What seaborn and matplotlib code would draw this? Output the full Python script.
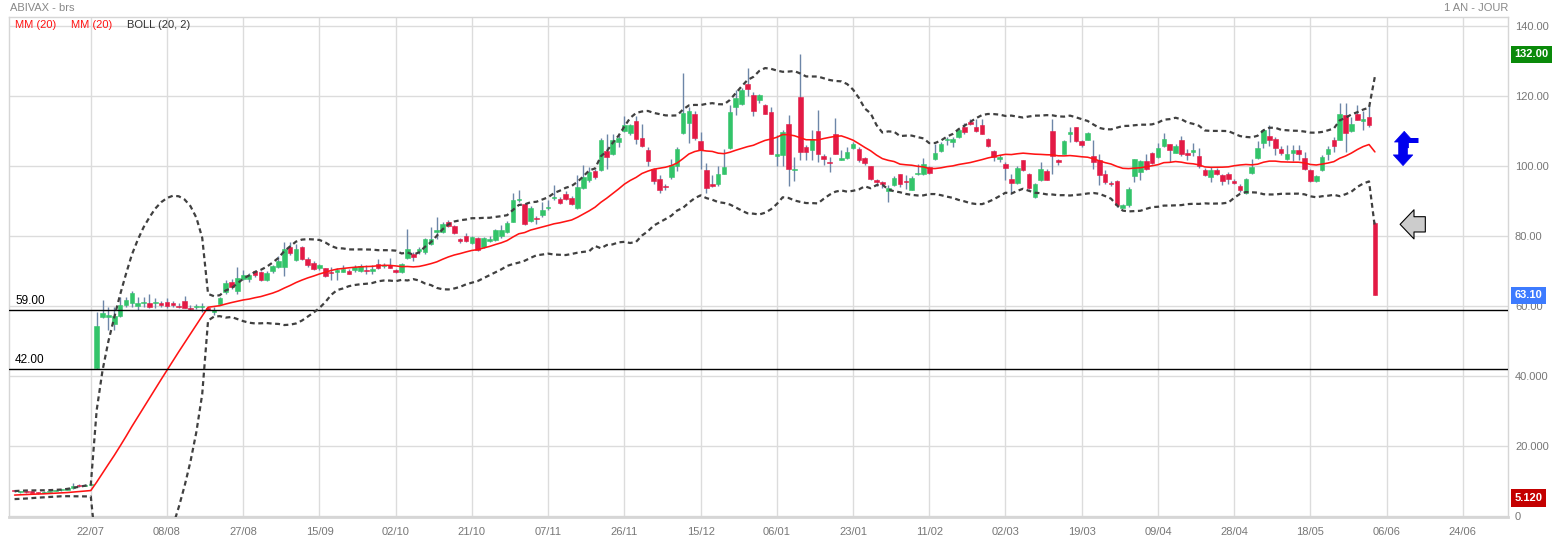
import numpy as np
import pandas as pd
import matplotlib
matplotlib.use("Agg")
import matplotlib.pyplot as plt
import matplotlib.transforms as mtransforms
import seaborn as sns

# ABIVAX - daily candles, 1 year
# closes before the first visible day, only used to warm up MM(20) / BOLL(20, 2)
warmup_close = [5.2, 5.3, 5.2, 5.4, 5.5, 5.4, 5.6, 5.7, 5.8, 5.7,
                5.9, 6.0, 6.1, 6.3, 6.4, 6.5, 6.7, 6.8, 6.9]

opens = [7.1, 6.8, 6.9, 6.8, 6.7, 6.6, 6.9, 7.1, 7.3, 7.4, 7.9, 8.9, 8.6, 8.9,
         42.4, 56.9, 57.0, 55.0, 57.2, 60.3, 60.8, 60.0, 60.9, 61.0,
         60.8, 60.9, 61.1, 60.8, 60.0, 61.6, 59.5, 59.7, 59.7, 59.6,
         58.4, 60.6, 64.1, 66.9, 64.3, 67.9, 67.9, 70.0, 69.7, 67.5,
         70.0, 71.2, 71.3, 77.0, 73.1, 76.8, 73.6, 72.4, 70.8, 70.8,
         69.8, 69.9, 69.9, 70.0, 70.3, 70.1, 70.4, 70.1, 72.2, 71.5,
         71.8, 70.2, 69.9, 73.7, 74.8, 75.7, 75.6, 77.9, 81.2, 81.2,
         84.0, 82.9, 79.1, 80.2, 78.1, 79.4, 76.8, 78.6, 78.9, 80.0,
         81.2, 84.2, 90.3, 89.3, 84.3, 85.3, 86.0, 88.1, 91.0, 90.6,
         92.2, 90.9, 88.2, 93.9, 96.0, 98.7, 98.9, 104.3, 103.6, 106.9,
         110.2, 109.5, 112.9, 108.0, 104.8, 99.2, 96.4, 94.5, 97.0, 100.0,
         109.5, 112.4, 115.0, 107.1, 99.0, 95.0, 94.8, 97.9, 105.3, 117.1,
         117.9, 123.4, 120.5, 118.9, 117.4, 115.4, 103.0, 103.2, 112.2, 99.0,
         119.8, 105.5, 104.8, 110.0, 103.0, 101.2, 109.1, 101.9, 102.4, 105.3,
         105.0, 102.4, 100.2, 95.8, 95.5, 93.0, 94.6, 97.7, 95.8, 93.3,
         97.8, 97.9, 99.9, 102.2, 104.4, 107.5, 106.9, 108.4, 111.1, 112.6,
         111.1, 111.7, 107.9, 104.3, 102.1, 100.6, 96.5, 95.3, 101.7, 97.9,
         91.3, 96.0, 98.7, 110.0, 101.7, 103.6, 109.1, 111.2, 107.2, 107.6,
         102.9, 101.7, 97.7, 95.2, 95.8, 88.2, 88.9, 97.2, 98.4, 101.4,
         103.9, 102.7, 105.8, 106.3, 103.9, 107.6, 103.9, 104.2, 103.0, 98.8,
         96.9, 98.8, 97.4, 97.9, 95.8, 94.5, 92.4, 98.1, 102.4, 106.6,
         108.8, 107.9, 105.0, 102.2, 103.8, 104.7, 102.5, 99.0, 95.8, 98.8,
         103.6, 107.4, 107.6, 114.6, 110.1, 115.0, 112.9, 114.1, 83.8]

highs = [7.3, 7.1, 7.0, 6.9, 6.8, 7.0, 7.2, 7.4, 7.6, 8.1, 9.3, 9.0, 9.1, 9.3,
         58.4, 61.7, 59.8, 59.8, 62.7, 62.7, 64.3, 62.7, 62.7, 63.4,
         62.3, 61.6, 62.2, 61.6, 60.8, 63.0, 60.3, 60.5, 60.9, 59.8,
         59.8, 62.7, 67.5, 67.7, 71.2, 70.3, 69.4, 70.3, 70.0, 70.0,
         71.8, 74.3, 78.4, 78.4, 77.9, 77.3, 74.0, 72.8, 72.2, 71.0,
         71.2, 71.0, 71.9, 70.7, 71.7, 72.2, 71.7, 71.7, 73.6, 72.4,
         73.9, 70.6, 72.4, 82.2, 75.5, 76.8, 79.6, 82.7, 85.5, 84.1,
         84.6, 83.2, 79.6, 81.0, 80.0, 79.8, 79.7, 80.0, 82.2, 83.1,
         84.4, 92.4, 93.1, 89.5, 88.6, 85.7, 89.8, 90.4, 94.6, 91.3,
         92.8, 91.4, 97.4, 100.3, 99.9, 99.1, 108.2, 109.3, 109.3, 109.0,
         114.3, 112.0, 114.3, 112.0, 105.4, 99.5, 97.4, 95.0, 102.2, 105.5,
         126.7, 117.0, 115.7, 109.8, 100.9, 97.4, 100.0, 105.0, 117.4, 121.7,
         122.4, 128.2, 121.2, 120.6, 117.7, 117.0, 109.0, 110.3, 114.6, 102.7,
         132.0, 106.0, 110.3, 116.2, 103.6, 102.7, 113.9, 104.8, 105.5, 107.0,
         105.5, 102.7, 100.2, 96.5, 95.7, 94.6, 97.1, 97.9, 97.4, 97.1,
         100.6, 102.3, 100.2, 106.5, 107.0, 108.4, 108.4, 110.8, 112.4, 113.5,
         113.6, 113.6, 108.1, 104.6, 103.2, 101.2, 97.9, 100.0, 101.9, 98.1,
         95.2, 101.2, 99.3, 113.6, 102.2, 107.6, 111.2, 111.2, 107.6, 109.8,
         107.6, 103.6, 98.8, 95.8, 96.2, 89.3, 94.1, 102.2, 101.7, 103.6,
         104.1, 106.7, 109.5, 106.5, 106.5, 108.8, 105.0, 106.6, 105.1, 99.5,
         99.7, 99.5, 97.9, 98.4, 96.5, 95.0, 96.7, 102.2, 107.2, 110.7,
         111.7, 108.5, 105.7, 106.0, 106.0, 106.0, 104.1, 99.3, 97.4, 103.1,
         105.7, 108.4, 118.0, 118.0, 114.1, 117.4, 115.9, 117.4, 84.1]

lows = [6.8, 6.7, 6.6, 6.5, 6.4, 6.5, 6.8, 7.0, 7.1, 7.3, 7.8, 8.4, 8.5, 8.8,
        42.0, 56.5, 53.2, 53.2, 57.0, 59.8, 59.8, 58.9, 59.8, 59.6,
        59.6, 59.8, 59.6, 59.8, 59.5, 59.5, 58.9, 59.2, 58.4, 58.9,
        57.6, 60.4, 63.6, 64.9, 63.6, 67.5, 67.0, 68.2, 67.2, 67.2,
        69.6, 70.8, 68.6, 74.6, 72.9, 73.3, 71.3, 70.3, 70.3, 68.4,
        67.6, 67.6, 69.7, 69.1, 69.8, 69.8, 69.2, 69.2, 70.6, 71.0,
        70.8, 69.6, 69.6, 73.4, 73.0, 74.9, 74.9, 77.4, 79.3, 80.9,
        82.6, 80.6, 78.1, 78.4, 77.9, 75.9, 76.6, 78.4, 78.7, 79.6,
        80.9, 84.0, 89.9, 83.1, 84.0, 83.4, 85.5, 87.5, 90.4, 89.1,
        90.4, 88.8, 87.9, 93.6, 95.5, 96.5, 98.7, 99.3, 103.1, 105.4,
        109.8, 109.0, 106.5, 105.6, 100.2, 95.0, 92.4, 93.3, 96.5, 98.7,
        109.3, 106.6, 107.4, 99.3, 92.4, 94.0, 94.3, 97.7, 105.0, 114.6,
        117.4, 120.0, 114.3, 118.1, 114.9, 103.4, 100.0, 100.0, 94.3, 95.7,
        101.7, 101.7, 101.7, 101.2, 100.3, 98.4, 103.4, 101.7, 102.2, 104.9,
        101.2, 100.3, 96.0, 94.3, 93.9, 89.9, 94.3, 94.0, 93.6, 93.1,
        97.4, 97.4, 97.9, 101.7, 104.1, 106.0, 105.5, 108.1, 109.3, 111.7,
        109.8, 109.1, 105.6, 101.5, 101.2, 96.0, 92.2, 95.0, 98.7, 93.6,
        91.0, 95.8, 96.0, 97.9, 100.3, 103.4, 107.0, 106.9, 105.5, 107.4,
        99.3, 94.6, 95.0, 94.3, 88.4, 88.0, 88.4, 95.5, 96.0, 98.8,
        100.7, 102.5, 105.5, 101.2, 103.8, 102.9, 101.7, 103.0, 99.6, 97.2,
        95.5, 97.4, 94.6, 95.0, 94.9, 92.6, 92.2, 97.9, 102.2, 105.3,
        105.9, 103.1, 103.1, 101.9, 101.5, 101.7, 98.8, 95.5, 95.5, 98.6,
        101.7, 104.1, 107.4, 104.1, 109.8, 113.1, 110.3, 111.2, 63.1]

closes = [7.0, 6.9, 6.8, 6.7, 6.6, 6.9, 7.1, 7.3, 7.4, 7.9, 8.5, 8.6, 8.9, 9.1,
          54.3, 58.1, 57.3, 57.2, 60.3, 61.7, 63.8, 61.0, 61.0, 59.8,
          61.3, 60.3, 60.1, 60.4, 59.7, 59.6, 59.2, 59.9, 59.8, 59.0,
          59.0, 62.4, 66.7, 65.6, 68.0, 68.9, 68.9, 68.8, 67.5, 69.4,
          71.4, 72.9, 76.4, 75.3, 76.4, 73.6, 71.8, 70.6, 71.7, 68.6,
          69.4, 70.0, 70.5, 69.3, 71.2, 71.4, 70.0, 70.5, 70.8, 71.8,
          71.0, 69.9, 72.2, 76.3, 74.0, 76.3, 79.1, 79.1, 81.9, 83.6,
          82.9, 81.0, 78.6, 78.7, 79.7, 76.1, 79.4, 79.2, 81.7, 81.7,
          83.8, 90.4, 90.5, 83.4, 88.2, 85.0, 87.6, 88.3, 91.3, 89.6,
          90.6, 89.1, 94.1, 96.9, 98.4, 96.9, 107.6, 102.7, 107.4, 108.1,
          111.7, 111.7, 107.9, 105.8, 101.6, 95.9, 93.3, 94.1, 100.3, 105.0,
          115.2, 115.7, 108.2, 104.6, 93.9, 94.3, 97.7, 99.9, 115.5, 119.6,
          121.8, 122.1, 115.8, 120.3, 115.0, 103.6, 103.4, 109.8, 99.1, 99.2,
          104.1, 104.0, 107.9, 103.6, 102.2, 101.0, 103.6, 102.4, 104.0, 106.5,
          101.7, 100.9, 96.4, 95.6, 94.9, 93.8, 96.6, 94.9, 95.4, 96.7,
          98.0, 100.6, 98.2, 103.8, 106.3, 107.7, 107.9, 110.3, 109.8, 112.0,
          110.1, 109.3, 105.8, 102.7, 102.7, 99.6, 95.3, 99.5, 98.9, 93.9,
          95.0, 99.3, 96.2, 102.9, 101.1, 107.2, 109.8, 107.2, 106.0, 109.5,
          101.2, 97.4, 95.5, 94.8, 88.9, 88.9, 93.6, 102.0, 101.4, 99.3,
          101.0, 105.3, 107.9, 104.6, 105.7, 103.6, 103.3, 104.4, 100.1, 97.6,
          99.0, 97.9, 95.8, 96.5, 95.3, 93.3, 96.4, 99.9, 105.3, 110.4,
          107.4, 105.3, 103.8, 103.6, 104.7, 103.4, 99.1, 95.7, 97.1, 102.8,
          105.0, 105.9, 115.0, 109.5, 112.2, 113.3, 113.4, 111.7, 63.1]

tick_labels = ["22/07", "08/08", "27/08", "15/09", "02/10", "21/10", "07/11",
               "26/11", "15/12", "06/01", "23/01", "11/02", "02/03", "19/03",
               "09/04", "28/04", "18/05", "06/06", "24/06"]
ytick_values = [0, 20, 40, 60, 80, 100, 120, 140]
ytick_labels = ["0", "20.000", "40.000", "60.00", "80.00", "100.00", "120.00", "140.00"]
levels = [59.0, 42.0]
year_high, last_price, year_low = 132.00, 63.10, 5.120

GREEN = "#33c46a"
RED = "#e31a45"
WICK = "#6d86a8"

sns.set_theme(style="white")
plt.rcParams['font.family'] = ['Liberation Sans', 'DejaVu Sans']

df = pd.DataFrame({"open": opens, "high": highs, "low": lows, "close": closes})
df["day"] = np.arange(len(df))

# MM(20) and Bollinger(20, 2)
full = pd.Series(warmup_close + closes)
n0 = len(warmup_close)
df["ma"] = full.rolling(20).mean().iloc[n0:].to_numpy()
sd = full.rolling(20).std(ddof=0).iloc[n0:].to_numpy()
df["upper"] = df["ma"] + 2 * sd
df["lower"] = df["ma"] - 2 * sd

W, H = 1553, 541
fig = plt.figure(figsize=(W / 100, H / 100), dpi=100)
ax = fig.add_axes([9 / W, 1 - 517 / H, (1508 - 9) / W, (517 - 17) / H])

# candles
up = df["close"] >= df["open"]
cols = np.where(up, GREEN, RED)
ax.vlines(df["day"], df["low"], df["high"], color=WICK, lw=1, zorder=2)
body = (df["close"] - df["open"]).abs().clip(lower=0.35)
ax.bar(df["day"], body, bottom=df[["open", "close"]].min(axis=1), width=0.78,
       color=cols, edgecolor=cols, linewidth=0.4, zorder=3)

# indicators
sns.lineplot(data=df, x="day", y="ma", ax=ax, color="#ff1414", linewidth=1.15,
             estimator=None, zorder=4)
for c in ["upper", "lower"]:
    sns.lineplot(data=df, x="day", y=c, ax=ax, color="#404040", linewidth=1.6,
                 linestyle=(0, (2.2, 1.6)), estimator=None, zorder=5)

# support levels
blend = mtransforms.blended_transform_factory(ax.transAxes, ax.transData)
for lv in levels:
    ax.axhline(lv, color="black", lw=1, zorder=4)
    ax.text(0.004, lv + 0.8, f"{lv:.2f}", transform=blend, fontsize=8.5,
            color="black", va="bottom", ha="left")

# axes
tick_pos = [13 + 13 * k for k in range(len(tick_labels))]
ax.set_xlim(-0.95, 254.7)
ax.set_ylim(-0.3, 142.7)
ax.set_xticks(tick_pos)
ax.set_xticklabels(tick_labels)
ax.yaxis.tick_right()
ax.set_yticks(ytick_values)
ax.set_yticklabels(ytick_labels)
ax.grid(True, color="#dcdcdc", lw=1)
ax.set_axisbelow(True)
ax.tick_params(axis="both", length=0, labelsize=8, colors="#777777")
ax.tick_params(axis="x", pad=7)
ax.tick_params(axis="y", pad=5)
for s in ax.spines.values():
    s.set_color("#d6d6d6")
    s.set_linewidth(1)
ax.spines["bottom"].set_linewidth(2)
ax.set_xlabel("")
ax.set_ylabel("")

# value boxes on the price axis
for val, txt, fc in [(year_high, "132.00", "#0a8a0a"),
                     (last_price, "63.10", "#3d7bff"),
                     (year_low, "5.120", "#c40000")]:
    ax.text(1.0045, val, txt, transform=blend, fontsize=8, fontweight="bold",
            color="white", va="center", ha="left", zorder=10,
            bbox=dict(boxstyle="square,pad=0.32", fc=fc, ec="none"))

# arrows next to the last candle
ax.annotate("", xy=(236.3, 83.4), xytext=(240.6, 83.4),
            arrowprops=dict(arrowstyle="simple,head_length=0.5,head_width=1.05,tail_width=0.55",
                            fc="#cccccc", ec="black", lw=0.8, mutation_scale=20,
                            shrinkA=0, shrinkB=0), annotation_clip=False)
ax.annotate("", xy=(236.8, 100.2), xytext=(236.8, 107.0),
            arrowprops=dict(arrowstyle="simple,head_length=0.55,head_width=1.0,tail_width=0.45",
                            fc="#0000ee", ec="#0000ee", lw=0.5, mutation_scale=14,
                            shrinkA=0, shrinkB=0), annotation_clip=False)
ax.annotate("", xy=(237.0, 110.0), xytext=(237.0, 105.3),
            arrowprops=dict(arrowstyle="simple,head_length=0.55,head_width=1.0,tail_width=0.45",
                            fc="#0000ee", ec="#0000ee", lw=0.5, mutation_scale=14,
                            shrinkA=0, shrinkB=0), annotation_clip=False)
ax.plot([237.0, 239.4], [107.6, 107.6], color="#0000ee", lw=3.6,
        solid_capstyle="butt", zorder=6)

# legend + titles
ax.text(0.004, 0.984, "MM (20)", transform=ax.transAxes, fontsize=8, color="#ff1414", va="center")
ax.text(0.0414, 0.984, "MM (20)", transform=ax.transAxes, fontsize=8, color="#ff1414", va="center")
ax.text(0.0787, 0.984, "BOLL (20, 2)", transform=ax.transAxes, fontsize=8, color="#333333", va="center")
fig.text(10 / W, 1 - 8 / H, "ABIVAX - brs", fontsize=8, color="#888888", va="center", ha="left")
fig.text(1508 / W, 1 - 8 / H, "1 AN - JOUR", fontsize=8, color="#888888", va="center", ha="right")

fig.savefig("out.png", dpi=100, facecolor="white")
